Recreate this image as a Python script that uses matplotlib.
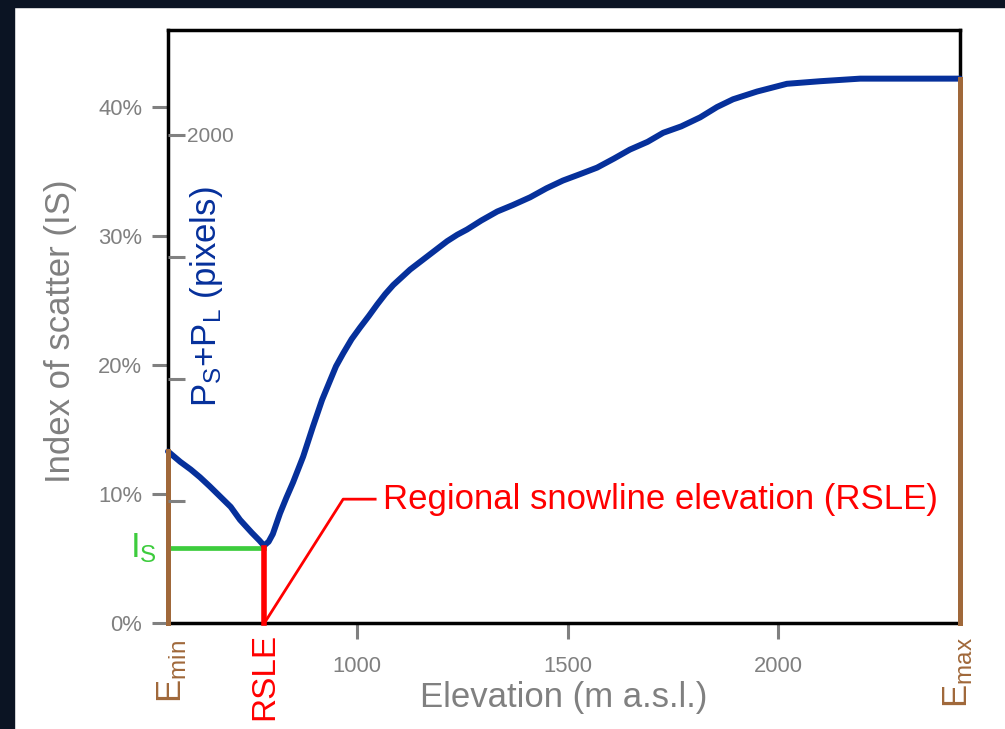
import matplotlib
matplotlib.use('Agg')
import matplotlib.pyplot as plt
from matplotlib.patches import Rectangle
import matplotlib.transforms as mtransforms

plt.rcParams['font.family'] = 'Liberation Sans'
plt.rcParams['mathtext.fontset'] = 'custom'
plt.rcParams['mathtext.rm'] = 'Liberation Sans'
plt.rcParams['mathtext.it'] = 'Liberation Sans'

# curve: elevation (m) vs index of scatter (%)
elevation = [551, 580, 605, 627, 650, 675, 700, 722, 750, 768, 779, 790, 800, 817, 832,
             848, 872, 895, 917, 936, 950, 967, 987, 1007, 1028, 1048, 1067, 1086, 1106,
             1126, 1146, 1166, 1190, 1214, 1238, 1261, 1295, 1333, 1370, 1411, 1450,
             1489, 1530, 1570, 1610, 1648, 1690, 1727, 1770, 1815, 1855, 1893, 1950,
             2021, 2100, 2195, 2300, 2432]
scatter_pct = [13.3, 12.5, 11.9, 11.3, 10.6, 9.8, 9.0, 8.0, 7.0, 6.4, 6.0, 6.3, 6.9, 8.5, 9.7,
               10.9, 12.9, 15.2, 17.3, 18.8, 19.9, 20.9, 22.0, 22.9, 23.8, 24.7, 25.5, 26.2, 26.8,
               27.4, 27.9, 28.4, 29.0, 29.6, 30.1, 30.5, 31.2, 31.9, 32.4, 33.0, 33.7,
               34.3, 34.8, 35.3, 36.0, 36.7, 37.3, 38.0, 38.5, 39.2, 40.0, 40.6, 41.2,
               41.8, 42.0, 42.2, 42.2, 42.2]

e_min = 551
e_max = 2432
rsle = 780
i_s = 5.8
callout_x = [780, 967, 1043]
callout_y = [0, 9.6, 9.6]

pct_ticks = [0, 10, 20, 30, 40]
pct_labels = ['0%', '10%', '20%', '30%', '40%']
elev_ticks = [1000, 1500, 2000]
pixel_ticks = [500, 1000, 1500, 2000]
pixel_labels = ['', '', '', '2000']

gray = '#808080'
blue = '#06309b'
brown = '#a0683a'
red = '#ff0000'
green = '#3dcc3d'

fig = plt.figure(figsize=(10.05, 7.29), dpi=100)
fig.patch.set_facecolor('white')
# dark frame strips of the screenshot
fig.add_artist(Rectangle((0, 1 - 7 / 729), 1, 7 / 729, transform=fig.transFigure, color='#0b1423', zorder=0))
fig.add_artist(Rectangle((0, 0), 14 / 1005, 1, transform=fig.transFigure, color='#0b1423', zorder=0))

ax = fig.add_axes([0.16716, 0.14540, 0.78806, 0.81344])
ax.set_xlim(e_min, e_max)
ax.set_ylim(0, 45.97)
for s in ax.spines.values():
    s.set_linewidth(2.5)
    s.set_color('black')

ax.set_yticks(pct_ticks)
ax.set_yticklabels(pct_labels)
ax.set_xticks(elev_ticks)
ax.tick_params(axis='both', direction='out', length=11.5, width=2.2, color=gray,
               labelcolor=gray, labelsize=15.8)
ax.tick_params(axis='y', pad=7)
ax.tick_params(axis='x', pad=12)

# pixel count axis, ticks inside the left spine
ax2 = ax.twinx()
ax2.set_ylim(0, 2430)
ax2.spines['right'].set_position(('axes', 0))
for s in ax2.spines.values():
    s.set_color('none')
ax2.set_yticks(pixel_ticks)
ax2.set_yticklabels(pixel_labels)
ax2.tick_params(axis='y', direction='out', length=12, width=2.2, color=gray,
                labelcolor=gray, labelsize=15, pad=2)

ax.plot(elevation, scatter_pct, color=blue, lw=4.3, solid_capstyle='round', zorder=4, clip_on=False)
ax.plot([e_min, e_min], [0, scatter_pct[0]], color=brown, lw=3.6, zorder=5, clip_on=False)
ax.plot([e_max, e_max], [0, scatter_pct[-1]], color=brown, lw=3.6, zorder=5, clip_on=False)
ax.plot([e_min, rsle], [i_s, i_s], color=green, lw=3.4, zorder=3, clip_on=False)
ax.plot([rsle, rsle], [0, i_s], color=red, lw=4, zorder=5, clip_on=False)
ax.plot(callout_x, callout_y, color=red, lw=2, zorder=3, clip_on=False)
ax.text(1062, callout_y[-1], 'Regional snowline elevation (RSLE)', color=red, fontsize=25,
        ha='left', va='center')

trans = mtransforms.blended_transform_factory(ax.transData, ax.transAxes)
ax.text(e_min + 10, -0.028, r'E$_\mathregular{min}$', transform=trans, rotation=90,
        ha='center', va='top', fontsize=25, color=brown)
ax.text(rsle, -0.017, 'RSLE', transform=trans, rotation=90,
        ha='center', va='top', fontsize=24, color=red)
ax.text(e_max - 5, -0.024, r'E$_\mathregular{max}$', transform=trans, rotation=90,
        ha='center', va='top', fontsize=25, color=brown)
ax.annotate(r'I$_\mathregular{S}$', xy=(e_min, i_s), xytext=(-8, 0), textcoords='offset points',
            ha='right', va='center', fontsize=25, color=green)

ax.text(-0.136, 0.492, 'Index of scatter (IS)', transform=ax.transAxes, rotation=90,
        ha='center', va='center', fontsize=25, color=gray)
ax.text(0.049, 0.55, r'P$_\mathregular{S}$+P$_\mathregular{L}$ (pixels)', transform=ax.transAxes,
        rotation=90, ha='center', va='center', fontsize=25, color=blue)
ax.text(0.5, -0.125, 'Elevation (m a.s.l.)', transform=ax.transAxes,
        ha='center', va='center', fontsize=25, color=gray)

fig.savefig('out.png', dpi=100, facecolor='white')
